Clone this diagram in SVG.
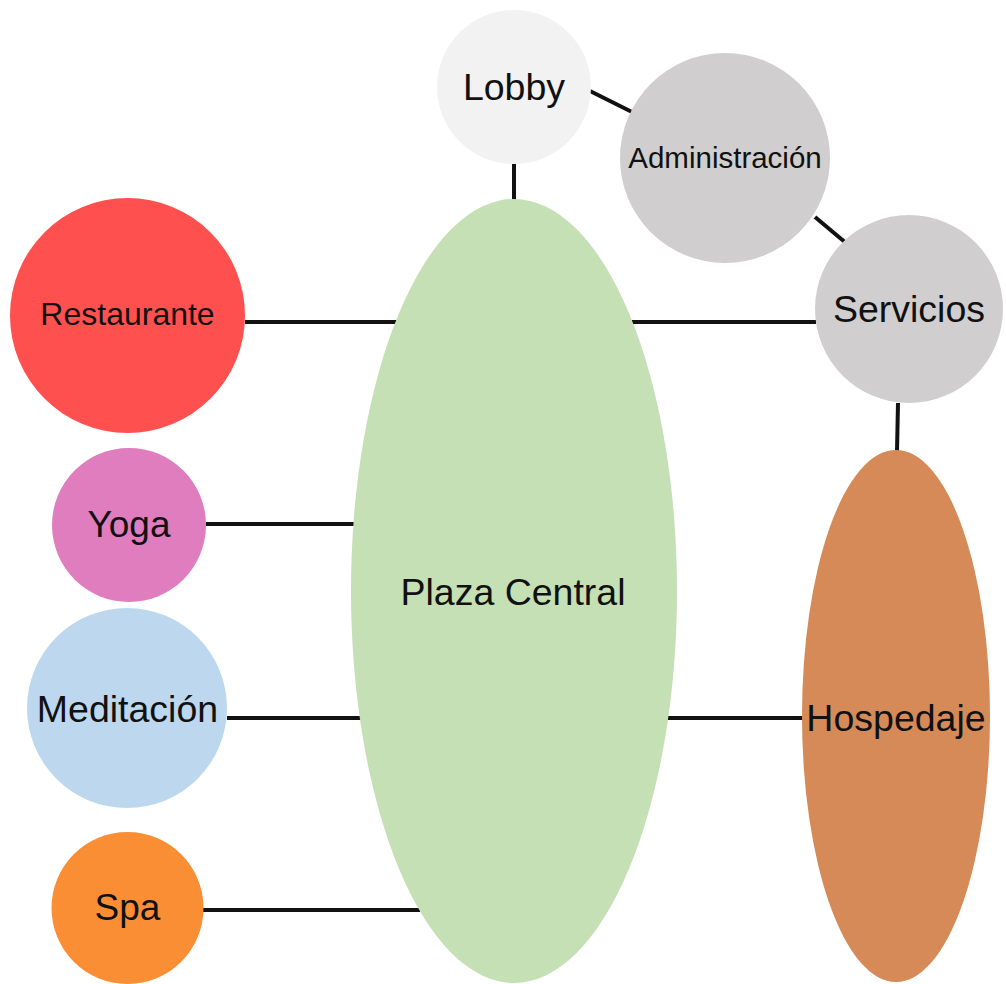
<svg xmlns="http://www.w3.org/2000/svg" width="1006" height="984" viewBox="0 0 1006 984">
<style>
.lbl{font-family:"Liberation Sans",Arial,Helvetica,sans-serif;fill:#111;text-anchor:middle}
.edge{stroke:#111;stroke-width:4;fill:none}
</style>
<rect width="1006" height="984" fill="#ffffff"/>
<g id="connectors">
<line class="edge" x1="514" y1="162" x2="514" y2="200"/>
<line class="edge" x1="590" y1="91" x2="632" y2="112"/>
<line class="edge" x1="815" y1="217" x2="846" y2="243"/>
<line class="edge" x1="245" y1="322" x2="398" y2="322"/>
<line class="edge" x1="632" y1="322" x2="816" y2="322"/>
<line class="edge" x1="898" y1="403" x2="897" y2="451"/>
<line class="edge" x1="206" y1="524" x2="354" y2="524"/>
<line class="edge" x1="227" y1="718" x2="363" y2="718"/>
<line class="edge" x1="667" y1="718" x2="803" y2="718"/>
<line class="edge" x1="203" y1="910" x2="420" y2="910"/>
</g>
<g id="plaza-central">
<ellipse cx="514" cy="591" rx="163" ry="392" fill="#c5e0b4"/>
<text class="lbl" x="513" y="605" font-size="37.5">Plaza Central</text>
</g>
<g id="lobby">
<circle cx="514" cy="87" r="77" fill="#f2f2f2"/>
<text class="lbl" x="514" y="100" font-size="37.5">Lobby</text>
</g>
<g id="administracion">
<circle cx="725" cy="158" r="105" fill="#d0cecf"/>
<text class="lbl" x="725" y="168" font-size="29.5">Administración</text>
</g>
<g id="servicios">
<circle cx="909" cy="309" r="94" fill="#d0cecf"/>
<text class="lbl" x="909" y="322" font-size="37.5">Servicios</text>
</g>
<g id="restaurante">
<circle cx="127.5" cy="315.5" r="117.5" fill="#ff5050"/>
<text class="lbl" x="127.5" y="325" font-size="32">Restaurante</text>
</g>
<g id="yoga">
<circle cx="129" cy="525" r="77" fill="#df7dbf"/>
<text class="lbl" x="129" y="537" font-size="37">Yoga</text>
</g>
<g id="meditacion">
<circle cx="127" cy="708" r="100" fill="#bdd7ee"/>
<text class="lbl" x="127.5" y="722" font-size="37.5">Meditación</text>
</g>
<g id="spa">
<circle cx="127.5" cy="908" r="76" fill="#f98e34"/>
<text class="lbl" x="127.5" y="920" font-size="37">Spa</text>
</g>
<g id="hospedaje">
<ellipse cx="896" cy="716" rx="94" ry="266" fill="#d58a57"/>
<text class="lbl" x="896" y="731" font-size="37.5">Hospedaje</text>
</g>
</svg>
